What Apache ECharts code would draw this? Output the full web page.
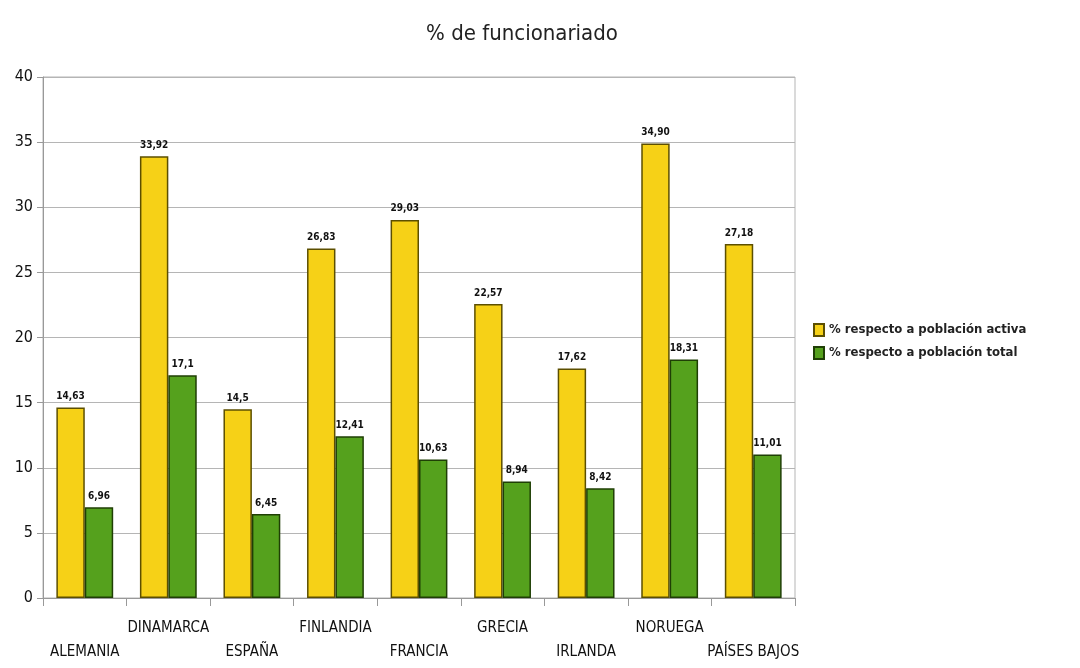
<!DOCTYPE html>
<html><head><meta charset="utf-8">
<script src="https://cdn.jsdelivr.net/npm/echarts@6/dist/echarts.min.js"></script>
<style>html,body{margin:0;padding:0;background:#fff}#c{width:1080px;height:668px}</style>
</head><body><div id="c"></div>
<script>
var categories = ['ALEMANIA','DINAMARCA','ESPAÑA','FINLANDIA','FRANCIA','GRECIA','IRLANDA','NORUEGA','PAÍSES BAJOS'];
var activa = [14.63, 33.92, 14.5, 26.83, 29.03, 22.57, 17.62, 34.90, 27.18];
var activaLabels = ['14,63','33,92','14,5','26,83','29,03','22,57','17,62','34,90','27,18'];
var total = [6.96, 17.1, 6.45, 12.41, 10.63, 8.94, 8.42, 18.31, 11.01];
var totalLabels = ['6,96','17,1','6,45','12,41','10,63','8,94','8,42','18,31','11,01'];
var seriesNames = ['% respecto a población activa','% respecto a población total'];
var yTicks = [0,5,10,15,20,25,30,35,40];

var font = '"Liberation Sans Narrow","DejaVu Sans Condensed","Roboto Condensed",sans-serif';
var chart = echarts.init(document.getElementById('c'));
chart.setOption({
  animation:false,
  backgroundColor:'#fff',
  title:{text:'% de funcionariado',left:517,top:18,textAlign:'center',
    textStyle:{fontFamily:font,fontSize:22,fontWeight:'normal',color:'#222'}},
  legend:{orient:'vertical',left:808,top:318,itemWidth:10,itemHeight:12,itemGap:9,icon:'rect',
    textStyle:{fontFamily:font,fontSize:13,fontWeight:'bold',color:'#222'},
    data:seriesNames},
  grid:{left:43,right:285,top:77,bottom:70,containLabel:false,show:true,borderColor:'#b5b5b5',borderWidth:1},
  xAxis:{type:'category',data:categories,
    axisLine:{lineStyle:{color:'#999',width:1}},
    axisTick:{show:true,length:8,lineStyle:{color:'#999'},alignWithLabel:false},
    axisLabel:{interval:0,fontFamily:font,fontSize:15,color:'#111',margin:18,lineHeight:24,
      formatter:function(v,i){return i%2===0?'\n'+v:v;}}},
  yAxis:{type:'value',min:0,max:40,interval:5,
    axisLine:{show:true,lineStyle:{color:'#999'}},
    axisTick:{show:true,length:6,lineStyle:{color:'#999'}},
    axisLabel:{fontFamily:font,fontSize:16,color:'#111',margin:10,
      formatter:function(v){return yTicks.indexOf(v)>=0?String(v):'';}},
    splitLine:{lineStyle:{color:'#b5b5b5',width:1}}},
  series:[
    {name:seriesNames[0],type:'bar',data:activa,barGap:'0%',barCategoryGap:'32%',
      itemStyle:{color:'#F6D117',borderColor:'#5c4f00',borderWidth:1.5},
      label:{show:true,position:'top',distance:6,fontFamily:font,fontSize:10,fontWeight:'bold',color:'#111',
        formatter:function(p){return activaLabels[p.dataIndex];}}},
    {name:seriesNames[1],type:'bar',data:total,
      itemStyle:{color:'#55A11D',borderColor:'#1f3f05',borderWidth:1.5},
      label:{show:true,position:'top',distance:6,fontFamily:font,fontSize:10,fontWeight:'bold',color:'#111',
        formatter:function(p){return totalLabels[p.dataIndex];}}}
  ]
});
</script></body></html>
